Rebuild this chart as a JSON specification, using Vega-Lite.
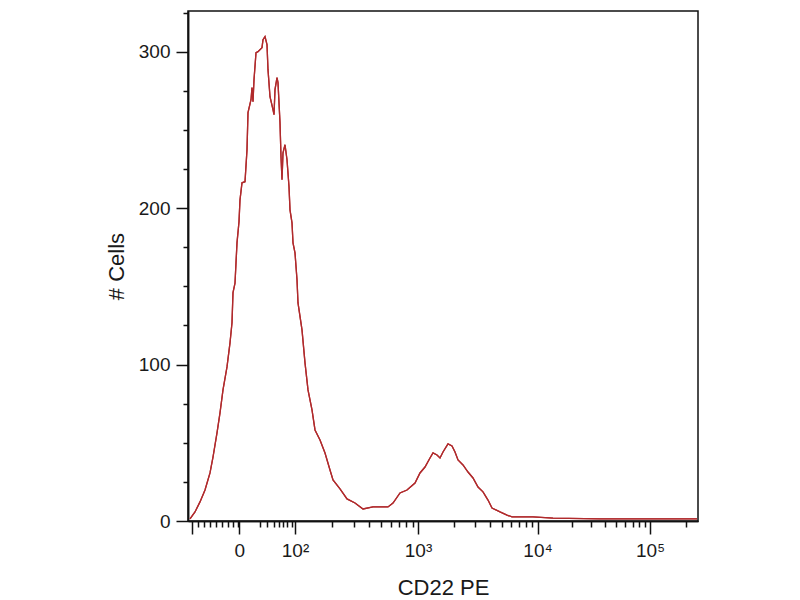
{
  "$schema": "https://vega.github.io/schema/vega-lite/v6.json",
  "width": 510,
  "height": 510,
  "autosize": {"type": "none"},
  "padding": {"left": 188, "top": 11, "right": 102, "bottom": 79},
  "background": "white",
  "data": {
    "values": [
      {"ch": 4, "cells": 1.3},
      {"ch": 14, "cells": 5.8},
      {"ch": 24, "cells": 12.2},
      {"ch": 34, "cells": 19.8},
      {"ch": 44, "cells": 30.7},
      {"ch": 50, "cells": 40.9},
      {"ch": 58, "cells": 56.3},
      {"ch": 64, "cells": 69.1},
      {"ch": 70, "cells": 83.8},
      {"ch": 78, "cells": 98.5},
      {"ch": 84, "cells": 113.9},
      {"ch": 88, "cells": 126.7},
      {"ch": 90, "cells": 146},
      {"ch": 94, "cells": 152},
      {"ch": 96, "cells": 165},
      {"ch": 98, "cells": 177.8},
      {"ch": 102, "cells": 191.3},
      {"ch": 104, "cells": 205.3},
      {"ch": 108, "cells": 216.2},
      {"ch": 114, "cells": 216.9},
      {"ch": 118, "cells": 237.3},
      {"ch": 120, "cells": 261},
      {"ch": 126, "cells": 269.3},
      {"ch": 128, "cells": 277},
      {"ch": 130, "cells": 268},
      {"ch": 132, "cells": 282.1},
      {"ch": 136, "cells": 299.4},
      {"ch": 140, "cells": 300},
      {"ch": 148, "cells": 302.6},
      {"ch": 150, "cells": 307.7},
      {"ch": 154, "cells": 309.6},
      {"ch": 158, "cells": 304.5},
      {"ch": 160, "cells": 288.5},
      {"ch": 164, "cells": 271.2},
      {"ch": 170, "cells": 262.9},
      {"ch": 172, "cells": 259.7},
      {"ch": 174, "cells": 275.7},
      {"ch": 178, "cells": 283.4},
      {"ch": 180, "cells": 280.2},
      {"ch": 182, "cells": 267.4},
      {"ch": 184, "cells": 254.6},
      {"ch": 186, "cells": 232.8},
      {"ch": 188, "cells": 218.1},
      {"ch": 190, "cells": 235.4},
      {"ch": 194, "cells": 240.5},
      {"ch": 198, "cells": 230.9},
      {"ch": 202, "cells": 213.7},
      {"ch": 204, "cells": 198.9},
      {"ch": 208, "cells": 190.6},
      {"ch": 210, "cells": 177.8},
      {"ch": 214, "cells": 171.4},
      {"ch": 218, "cells": 154.2},
      {"ch": 220, "cells": 139.4},
      {"ch": 228, "cells": 122.2},
      {"ch": 234, "cells": 101.1},
      {"ch": 240, "cells": 83.8},
      {"ch": 248, "cells": 71},
      {"ch": 254, "cells": 58.2},
      {"ch": 264, "cells": 51.8},
      {"ch": 274, "cells": 43.5},
      {"ch": 284, "cells": 32.6},
      {"ch": 290, "cells": 26.2},
      {"ch": 304, "cells": 20.5},
      {"ch": 318, "cells": 14.1},
      {"ch": 334, "cells": 11.5},
      {"ch": 350, "cells": 7.7},
      {"ch": 370, "cells": 9},
      {"ch": 400, "cells": 9},
      {"ch": 410, "cells": 11.5},
      {"ch": 424, "cells": 17.9},
      {"ch": 438, "cells": 19.8},
      {"ch": 454, "cells": 24.3},
      {"ch": 464, "cells": 30.7},
      {"ch": 474, "cells": 34.5},
      {"ch": 484, "cells": 40.3},
      {"ch": 490, "cells": 43.5},
      {"ch": 498, "cells": 42.2},
      {"ch": 504, "cells": 40.3},
      {"ch": 510, "cells": 44.1},
      {"ch": 520, "cells": 49.3},
      {"ch": 528, "cells": 48},
      {"ch": 534, "cells": 44.1},
      {"ch": 540, "cells": 39},
      {"ch": 550, "cells": 35.8},
      {"ch": 560, "cells": 31.3},
      {"ch": 570, "cells": 27.5},
      {"ch": 580, "cells": 21.7},
      {"ch": 590, "cells": 18.6},
      {"ch": 600, "cells": 13.4},
      {"ch": 608, "cells": 8.3},
      {"ch": 624, "cells": 5.8},
      {"ch": 638, "cells": 3.8},
      {"ch": 648, "cells": 2.6},
      {"ch": 690, "cells": 2.6},
      {"ch": 730, "cells": 1.9},
      {"ch": 824, "cells": 1.3},
      {"ch": 924, "cells": 1.3},
      {"ch": 1018, "cells": 1.3}
    ]
  },
  "config": {
    "view": {"stroke": "#111111", "strokeWidth": 1.5},
    "axis": {
      "grid": false,
      "domainColor": "#111111",
      "domainWidth": 1.5,
      "tickColor": "#111111",
      "tickWidth": 1.5,
      "labelFont": "Liberation Sans",
      "labelFontSize": 19,
      "labelColor": "#1a1a1a",
      "labelOverlap": false,
      "labelBound": false,
      "labelFlush": false,
      "titleFont": "Liberation Sans",
      "titleFontSize": 22,
      "titleFontWeight": "normal",
      "titleColor": "#1a1a1a"
    }
  },
  "resolve": {"axis": {"x": "independent", "y": "independent"}},
  "layer": [
    {
      "mark": {"type": "line", "color": "#b02a2c", "strokeWidth": 1.3, "interpolate": "linear"},
      "encoding": {
        "x": {
          "field": "ch",
          "type": "quantitative",
          "scale": {"domain": [0, 1020], "nice": false, "zero": false},
          "axis": {
            "orient": "bottom",
            "title": null,
            "labels": false,
            "tickSize": 6,
            "values": [20.7, 32.7, 44, 56, 68.7, 79.3, 90.7, 99, 144, 158, 172, 182, 190, 198, 208, 288, 331, 362, 386, 405, 422, 436, 449, 532, 574, 604, 627, 646, 662, 676, 688, 767, 806, 834, 856, 874, 889, 902, 914, 995]
          }
        },
        "y": {
          "field": "cells",
          "type": "quantitative",
          "scale": {"domain": [0, 326], "nice": false},
          "axis": {
            "orient": "left",
            "title": null,
            "labels": false,
            "tickSize": 5,
            "values": [25, 50, 75, 125, 150, 175, 225, 250, 275, 325]
          }
        }
      }
    },
    {
      "mark": {"type": "line", "color": "#b02a2c", "strokeWidth": 1.3, "interpolate": "linear"},
      "encoding": {
        "x": {
          "field": "ch",
          "type": "quantitative",
          "axis": {
            "orient": "bottom",
            "title": "CD22 PE",
            "titleY": 73,
            "titleBaseline": "alphabetic",
            "tickSize": 13,
            "labelPadding": 7,
            "values": [7.3, 102.6, 214, 460, 699, 924],
            "labelExpr": "datum.value == 102.6 ? '0' : datum.value == 214 ? '10²' : datum.value == 460 ? '10³' : datum.value == 699 ? '10⁴' : datum.value == 924 ? '10⁵' : ''"
          }
        },
        "y": {
          "field": "cells",
          "type": "quantitative",
          "axis": {
            "orient": "left",
            "title": "# Cells",
            "titleX": -72,
            "titleBaseline": "middle",
            "tickSize": 12,
            "labelPadding": 6,
            "values": [0, 100, 200, 300]
          }
        }
      }
    }
  ]
}
